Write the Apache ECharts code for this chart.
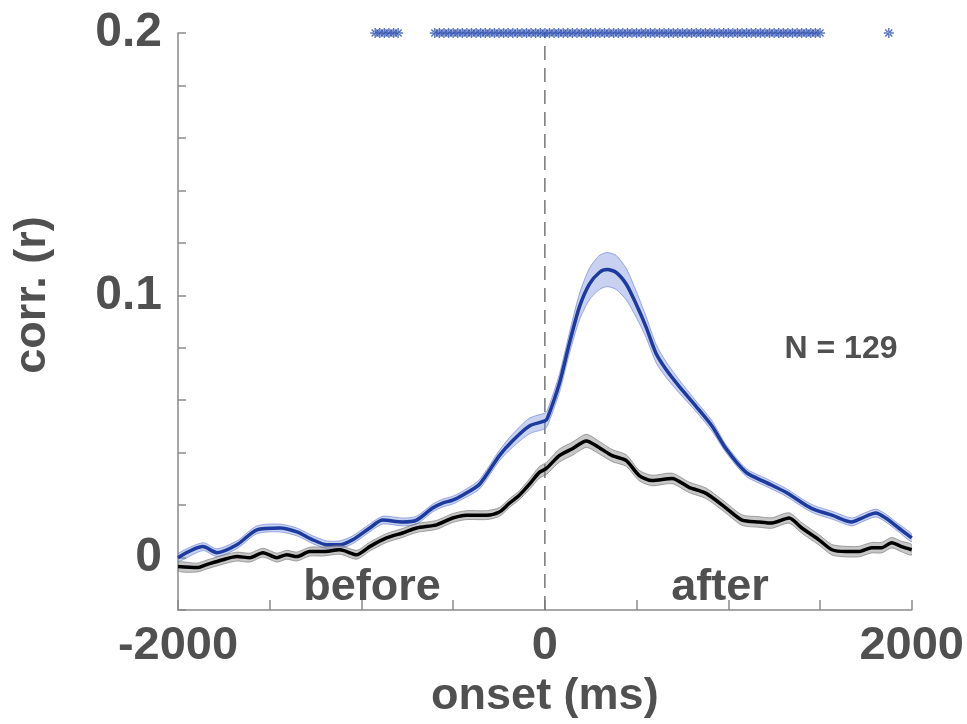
<!DOCTYPE html>
<html>
<head>
<meta charset="utf-8">
<script src="https://cdn.jsdelivr.net/npm/echarts@6/dist/echarts.min.js"></script>
<style>html,body{margin:0;padding:0;background:#fff}#chart{width:967px;height:724px}</style>
</head>
<body>
<div id="chart"></div>
<script>
// ---- data ----
const blueX = [-2000,-1864,-1788,-1679,-1570,-1445,-1352,-1265,-1189,-1118,-1048,-955,-884,-776,-699,-612,-558,-503,-449,-356,-248,-177,-84,0,14,79,133,188,242,297,340,389,444,498,552,607,661,732,824,911,988,1097,1205,1314,1423,1477,1565,1673,1728,1804,1858,1929,2000];
const blueY = [0.0000,0.0042,0.0019,0.0049,0.0106,0.0113,0.0098,0.0068,0.0049,0.0049,0.0068,0.0113,0.0143,0.0136,0.0143,0.0189,0.0208,0.0219,0.0238,0.0280,0.0389,0.0445,0.0502,0.0521,0.0532,0.0664,0.0815,0.0955,0.1042,0.1087,0.1098,0.1087,0.1042,0.0966,0.0879,0.0777,0.0717,0.0653,0.0577,0.0502,0.0415,0.0325,0.0287,0.0249,0.0200,0.0181,0.0162,0.0136,0.0151,0.0170,0.0151,0.0113,0.0075];
const blueErr = [0.0015,0.0015,0.0015,0.0015,0.0015,0.0015,0.0015,0.0015,0.0015,0.0015,0.0015,0.0015,0.0015,0.0015,0.0015,0.0015,0.0015,0.0015,0.0015,
  0.0018,0.0020,0.0025,0.0030,0.0030,0.0030,0.0035,0.0040,0.0050,0.0060,0.0065,0.0065,0.0065,0.0060,0.0050,0.0040,0.0035,0.0030,0.0025,0.0020,0.0020,
  0.0015,0.0015,0.0015,0.0015,0.0015,0.0015,0.0015,0.0015,0.0015,0.0015,0.0015,0.0015,0.0015];
const blackX = [-2000,-1897,-1842,-1755,-1679,-1608,-1537,-1461,-1407,-1352,-1282,-1211,-1118,-1026,-955,-863,-776,-699,-590,-503,-427,-318,-248,-193,-139,-84,-30,8,79,150,226,297,367,444,514,585,694,786,879,988,1075,1167,1238,1331,1401,1494,1565,1641,1711,1782,1836,1891,1945,2000];
const blackY = [-0.0034,-0.0038,-0.0026,-0.0008,0.0004,0.0000,0.0019,0.0000,0.0011,0.0004,0.0023,0.0023,0.0030,0.0011,0.0042,0.0075,0.0094,0.0113,0.0125,0.0151,0.0162,0.0162,0.0174,0.0208,0.0238,0.0280,0.0325,0.0340,0.0389,0.0415,0.0445,0.0419,0.0389,0.0370,0.0313,0.0294,0.0302,0.0268,0.0245,0.0189,0.0143,0.0136,0.0132,0.0151,0.0113,0.0068,0.0030,0.0023,0.0023,0.0038,0.0038,0.0057,0.0042,0.0030];
const blackErr = [0.0017,0.0017,0.0017,0.0017,0.0017,0.0017,0.0017,0.0017,0.0017,0.0017,0.0017,0.0017,0.0017,0.0017,0.0017,0.0017,0.0017,0.0017,0.0017,0.0017,0.0017,0.0017,0.0017,0.0017,0.0017,
  0.0020,0.0022,0.0023,0.0025,0.0025,0.0025,0.0024,0.0023,0.0022,
  0.0020,0.0020,0.0020,0.0020,0.0020,0.0020,0.0020,0.0020,0.0020,0.0020,0.0020,0.0020,0.0020,0.0020,0.0020,0.0020,0.0020,0.0020,0.0020,0.0020];
const sigX = [-925,-900,-875,-850,-825,-800,
  -600,-575,-550,-525,-500,-475,-450,-425,-400,-375,-350,-325,-300,-275,-250,-225,-200,-175,-150,-125,-100,-75,-50,-25,
  0,25,50,75,100,125,150,175,200,225,250,275,300,325,350,375,400,425,450,475,500,525,550,575,600,625,650,675,700,725,
  750,775,800,825,850,875,900,925,950,975,1000,1025,1050,1075,1100,1125,1150,1175,1200,1225,1250,1275,1300,1325,1350,
  1375,1400,1425,1450,1475,1500,
  1875];
const sigLevel = 0.2;
const xTicks = [-2000, 0, 2000];
const yTicks = [0, 0.1, 0.2];
const annotN = 'N = 129';

// ---- chart ----
const FONT = "'Liberation Sans', Arial, Helvetica, sans-serif";
const TXT = '#505050';
const AX = '#8a8a8a';
const chart = echarts.init(document.getElementById('chart'));

function band(xs, ys, es, fill, stroke, z) {
  return {
    type: 'custom', silent: true, clip: true, z: z,
    data: [[0, 0]],
    renderItem: function (params, api) {
      const up = xs.map((x, i) => api.coord([x, ys[i] + es[i]]));
      const lo = xs.map((x, i) => api.coord([x, ys[i] - es[i]])).reverse();
      return { type: 'polygon', shape: { points: up.concat(lo), smooth: 0.25 },
        style: { fill: fill, stroke: stroke, lineWidth: 1 } };
    }
  };
}
const zip = (xs, ys) => xs.map((x, i) => [x, ys[i]]);
const starPath = 'path://M-1.4,-10L1.4,-10L1.4,10L-1.4,10ZM-10,-1.4L10,-1.4L10,1.4L-10,1.4ZM-8.1,-6.1L6.1,8.1L8.1,6.1L-6.1,-8.1ZM6.1,-8.1L8.1,-6.1L-6.1,8.1L-8.1,6.1Z';

chart.setOption({
  animation: false,
  grid: { left: 178, right: 54, top: 33, bottom: 108 },
  xAxis: {
    type: 'value', min: -2000, max: 2000, interval: 500,
    axisLine: { onZero: false, lineStyle: { color: AX, width: 1.5 } },
    axisTick: { inside: true, length: 10, lineStyle: { color: AX, width: 1.5 } },
    splitLine: { show: false },
    axisLabel: { margin: 12, color: TXT, fontFamily: FONT, fontWeight: 'bold', fontSize: 47,
      formatter: v => xTicks.indexOf(v) >= 0 ? String(v) : '' },
    name: 'onset (ms)', nameLocation: 'middle', nameGap: 62,
    nameTextStyle: { color: TXT, fontFamily: FONT, fontWeight: 'bold', fontSize: 45 }
  },
  yAxis: {
    type: 'value', min: -0.02, max: 0.2, interval: 0.02,
    axisLine: { show: true, onZero: false, lineStyle: { color: AX, width: 1.5 } },
    axisTick: { inside: true, length: 8, lineStyle: { color: AX, width: 1.5 } },
    splitLine: { show: false },
    axisLabel: { margin: 16, color: TXT, fontFamily: FONT, fontWeight: 'bold', fontSize: 48,
      formatter: v => { const r = Math.round(v * 100) / 100; return yTicks.indexOf(r) >= 0 ? String(r) : ''; } }
  },
  graphic: [
    { type: 'text', x: 33, y: 295, rotation: Math.PI / 2,
      style: { text: 'corr. (r)', fill: TXT, font: 'bold 45px ' + FONT, align: 'center', verticalAlign: 'middle' } },
    { type: 'text', x: 372, y: 588,
      style: { text: 'before', fill: TXT, font: 'bold 45px ' + FONT, align: 'center', verticalAlign: 'middle' } },
    { type: 'text', x: 720, y: 588,
      style: { text: 'after', fill: TXT, font: 'bold 45px ' + FONT, align: 'center', verticalAlign: 'middle' } },
    { type: 'text', x: 841, y: 349,
      style: { text: annotN, fill: TXT, font: 'bold 32px ' + FONT, align: 'center', verticalAlign: 'middle' } }
  ],
  series: [
    { type: 'line', data: [[0, -0.02], [0, 0.2]], showSymbol: false, silent: true, z: 1,
      lineStyle: { color: '#777', width: 1.5, type: [14, 8] } },
    band(blueX, blueY, blueErr, 'rgba(110,135,215,0.38)', 'rgba(90,115,205,0.55)', 2),
    { type: 'line', data: zip(blueX, blueY), showSymbol: false, smooth: 0.25, z: 3,
      lineStyle: { color: '#1d3a9e', width: 3.5 } },
    band(blackX, blackY, blackErr, 'rgba(130,130,130,0.45)', 'rgba(100,100,100,0.55)', 4),
    { type: 'line', data: zip(blackX, blackY), showSymbol: false, smooth: 0.25, z: 5,
      lineStyle: { color: '#000', width: 3.5 } },
    { type: 'scatter', data: sigX.map(x => [x, sigLevel]), symbol: starPath, symbolSize: 10,
      clip: false, z: 6, itemStyle: { color: '#2f50b0' } }
  ]
});
</script>
</body>
</html>
